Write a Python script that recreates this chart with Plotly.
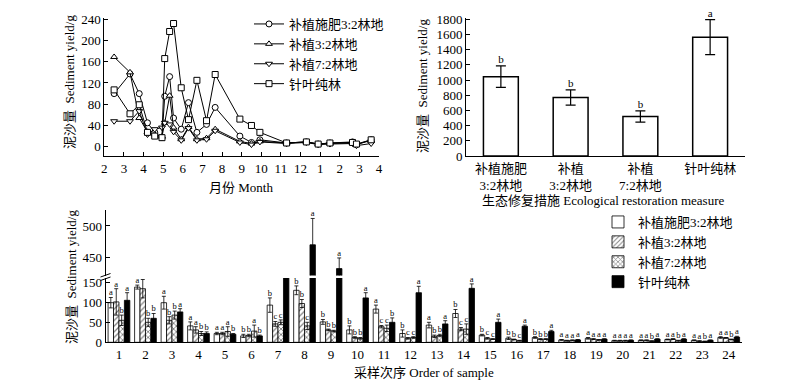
import plotly.graph_objects as go

# ---------------- data: top-left (time series) ----------------
month_pos = [2.50, 3.31, 3.78, 4.20, 4.57, 4.94, 5.08, 5.33, 5.53, 5.92, 6.29, 6.72,
             7.21, 7.65, 8.91, 9.50, 9.93, 11.29, 12.30, 12.90, 13.50, 14.65, 14.85, 15.60]
month_ticks = [2, 3, 4, 5, 6, 7, 8, 9, 10, 11, 12, 13, 14, 15, 16]
month_labels = ["2", "3", "4", "5", "6", "7", "8", "9", "10", "11", "12", "1", "2", "3", "4"]

series_names = ["补植施肥3:2林地", "补植3:2林地", "补植7:2林地", "针叶纯林"]
line_fert32 = [100, 137, 100, 45, 27, 17, 95, 132, 54, 33, 83, 27, 42, 74, 20, 8, 13, 7, 9, 5, 7, 9, 4, 13]
line_plant32 = [169, 140, 54, 28, 23, 19, 45, 96, 36, 14, 37, 14, 16, 33, 10, 6, 10, 7, 9, 5, 6, 7, 4, 12]
line_plant72 = [48, 48, 67, 23, 33, 36, 45, 42, 28, 12, 35, 12, 14, 30, 8, 4, 9, 6, 8, 4, 5, 6, 2, 6]
line_pine = [107, 62, 79, 27, 20, 17, 166, 217, 232, 111, 51, 125, 49, 136, 52, 40, 27, 7, 9, 5, 7, 8, 5, 13]

# ---------------- data: top-right (totals) ----------------
measures = ["补植施肥<br>3:2林地", "补植<br>3:2林地", "补植<br>7:2林地", "针叶纯林"]
totals = [1045, 770, 520, 1565]
totals_err = [142, 100, 75, 230]
totals_letters = ["b", "b", "b", "a"]

# ---------------- data: bottom (per sample) ----------------
samples = list(range(1, 25))
fert32_v = [99, 138, 99, 41, 22, 16, 93, 130, 51, 31, 83, 22, 43, 72, 18, 10, 12, 6, 10, 4, 5, 7, 5, 12]
fert32_e = [13, 5, 16, 10, 3, 4, 18, 11, 6, 10, 10, 9, 7, 10, 2, 3, 2, 1, 2, 1, 1, 1, 1, 2]
plant32_v = [101, 134, 55, 31, 22, 17, 46, 97, 31, 12, 39, 10, 15, 33, 10, 7, 8, 4, 8, 4, 5, 8, 3, 11]
plant32_e = [33, 23, 9, 8, 3, 3, 6, 10, 2, 2, 3, 2, 3, 4, 2, 1, 1, 1, 1, 1, 1, 1, 1, 1]
plant72_v = [55, 50, 68, 22, 27, 28, 50, 41, 28, 10, 35, 12, 17, 33, 8, 4, 8, 5, 6, 4, 3, 4, 2, 7]
plant72_e = [13, 10, 10, 5, 12, 15, 6, 9, 2, 2, 8, 2, 3, 13, 1, 1, 1, 1, 1, 1, 1, 1, 1, 1]
pine_v = [105, 60, 76, 22, 20, 16, 165, 470, 432, 111, 50, 124, 46, 135, 50, 40, 27, 6, 8, 5, 8, 8, 5, 13]
pine_e = [19, 12, 8, 4, 2, 2, 0, 42, 17, 13, 11, 16, 8, 11, 8, 3, 3, 1, 1, 1, 1, 1, 1, 2]

fert32_l = ["a", "a", "a", "a", "a", "b", "b", "b", "b", "b", "a", "b", "a", "b", "b", "b", "b", "a", "a", "a", "a", "a", "a", "a"]
plant32_l = ["a", "a", "b", "a", "a", "b", "c", "b", "b", "b", "c", "c", "b", "c", "c", "b", "b", "a", "a", "a", "a", "a", "a", "a"]
plant72_l = ["b", "b", "b", "b", "a", "a", "c", "c", "b", "b", "c", "c", "b", "c", "c", "c", "b", "a", "a", "a", "b", "b", "b", "b"]
pine_l = ["a", "b", "a", "b", "b", "b", "", "a", "a", "a", "b", "a", "a", "a", "a", "a", "a", "a", "a", "a", "a", "a", "a", "a"]

FONT = "Liberation Serif, 'Times New Roman', 'Noto Sans CJK SC', serif"
# the page body has an 8px default margin: figure is drawn at (8, 8)
OFF = 8
W, H = 800 - OFF, 390 - OFF


def px_x(p):
    return (p - OFF) / W


def px_y(p):
    return 1 - (p - OFF) / H


fig = go.Figure()

# ---- top-left lines ----
symbols = ["circle", "triangle-up", "triangle-down", "square"]
for name, vals, sym in zip(series_names, [line_fert32, line_plant32, line_plant72, line_pine], symbols):
    fig.add_trace(go.Scatter(
        x=month_pos, y=vals, name=name, mode="lines+markers", xaxis="x", yaxis="y",
        line=dict(color="black", width=1),
        marker=dict(symbol=sym, size=6, color="white", line=dict(color="black", width=1)),
        legend="legend", cliponaxis=False))

# ---- top-right bars ----
fig.add_trace(go.Bar(
    x=[0, 1, 2, 3], y=totals, width=0.5, xaxis="x2", yaxis="y2", showlegend=False,
    marker=dict(color="white", line=dict(color="black", width=1.5)),
    error_y=dict(type="data", array=totals_err, color="black", thickness=1.2, width=5)))
fig.add_trace(go.Scatter(
    x=[0, 1, 2, 3], y=[v + e for v, e in zip(totals, totals_err)], text=totals_letters,
    mode="text", textposition="top center", xaxis="x2", yaxis="y2", showlegend=False,
    textfont=dict(family=FONT, size=11, color="black"), cliponaxis=False))

# ---- bottom grouped bars (broken axis: y3 lower, y4 upper) ----
bargap = 0.18
patterns = [dict(shape=""), dict(shape="/", size=4, solidity=0.3, fgcolor="black", bgcolor="white"),
            dict(shape="x", size=4, solidity=0.4, fgcolor="black", bgcolor="white"), dict(shape="")]
colors = ["white", "white", "white", "black"]
vals_all = [fert32_v, plant32_v, plant72_v, pine_v]
errs_all = [fert32_e, plant32_e, plant72_e, pine_e]
lets_all = [fert32_l, plant32_l, plant72_l, pine_l]
for yax, show in [("y3", True), ("y4", False)]:
    for i in range(4):
        fig.add_trace(go.Bar(
            x=samples, y=vals_all[i], name=series_names[i], xaxis="x3", yaxis=yax,
            showlegend=show, legend="legend2",
            marker=dict(color=colors[i], line=dict(color="black", width=0.8), pattern=patterns[i]),
            error_y=dict(type="data", array=errs_all[i], color="black", thickness=0.8, width=2)))

bw = (1 - bargap) / 4
low_top = 160.75
for i in range(4):
    off = (i - 1.5) * bw
    xs_lo, ys_lo, ts_lo, xs_hi, ys_hi, ts_hi = [], [], [], [], [], []
    for s, v, e, t in zip(samples, vals_all[i], errs_all[i], lets_all[i]):
        top = v + e
        if top < 150:
            xs_lo.append(s + off); ys_lo.append(top); ts_lo.append(t)
        elif top > 421:
            xs_hi.append(s + off); ys_hi.append(top); ts_hi.append(t)
    for xs, ys, ts, yax in [(xs_lo, ys_lo, ts_lo, "y3"), (xs_hi, ys_hi, ts_hi, "y4")]:
        fig.add_trace(go.Scatter(
            x=xs, y=ys, text=ts, mode="text", textposition="top center", xaxis="x3", yaxis=yax,
            showlegend=False, textfont=dict(family=FONT, size=8.5, color="black"), cliponaxis=False))

axis_common = dict(showline=True, linecolor="black", linewidth=1, showgrid=False, zeroline=False,
                   ticks="inside", ticklen=4, tickcolor="black", tickwidth=1,
                   tickfont=dict(family=FONT, size=13, color="black"))

fig.update_layout(
    width=W, height=H, margin=dict(l=0, r=0, t=0, b=0, autoexpand=False),
    paper_bgcolor="white", plot_bgcolor="white",
    font=dict(family=FONT, color="black"),
    barmode="group", bargap=bargap, bargroupgap=0,
    xaxis=dict(**axis_common, domain=[px_x(104.3), px_x(379)], range=[2, 16],
               tickvals=month_ticks, ticktext=month_labels, anchor="y"),
    yaxis=dict(**axis_common, domain=[px_y(156), px_y(18)], range=[-17.5, 242.4],
               tickvals=[0, 40, 80, 120, 160, 200, 240], anchor="x"),
    xaxis2=dict(**{**axis_common, "ticks": ""}, domain=[px_x(466), px_x(745)], range=[-0.5, 3.5],
                tickvals=[0, 1, 2, 3], ticktext=measures, anchor="y2"),
    yaxis2=dict(**axis_common, domain=[px_y(156), px_y(18)], range=[0, 1817],
                tickvals=list(range(0, 1801, 200)), anchor="x2"),
    xaxis3=dict(**{**axis_common, "ticks": ""}, domain=[px_x(105.7), px_x(742)], range=[0.5, 24.5],
                tickvals=samples, anchor="y3"),
    yaxis3=dict(**axis_common, domain=[px_y(342.3), px_y(278)], range=[0, low_top],
                tickvals=[0, 50, 100, 150], anchor="x3"),
    yaxis4=dict(**axis_common, domain=[px_y(275.5), px_y(210)], range=[421, 525.5],
                tickvals=[450, 500], anchor="x3"),
    legend=dict(x=px_x(249), y=px_y(9), xanchor="left", yanchor="top", bgcolor="rgba(0,0,0,0)",
                font=dict(family=FONT, size=13, color="black"), itemwidth=30, tracegroupgap=0),
    legend2=dict(x=px_x(598), y=px_y(207), xanchor="left", yanchor="top", bgcolor="rgba(0,0,0,0)",
                 font=dict(family=FONT, size=13, color="black"), itemwidth=30, tracegroupgap=0),
)

# axis titles
title_font = dict(family=FONT, size=13, color="black")
titles = [
    ("泥沙量  Sediment yield/g", 69, 82, -90),
    ("月份 Month", 241, 187, 0),
    ("泥沙量  Sediment yield/g", 422, 86, -90),
    ("生态修复措施 Ecological restoration measure", 603, 201, 0),
    ("泥沙量  Sediment yield/g", 71, 277, -90),
    ("采样次序 Order of sample", 424, 372, 0),
]
for txt, tx, ty, ang in titles:
    fig.add_annotation(text=txt, x=px_x(tx), y=px_y(ty), xref="paper", yref="paper",
                       xanchor="center", yanchor="middle", textangle=ang, showarrow=False,
                       font=title_font)

# axis-break marks
for dy in (0, 3.5):
    fig.add_shape(type="line", xref="paper", yref="paper",
                  x0=px_x(100.5), y0=px_y(280.5 - dy), x1=px_x(110.5), y1=px_y(277 - dy),
                  line=dict(color="black", width=1))

fig.write_html("out.html")
